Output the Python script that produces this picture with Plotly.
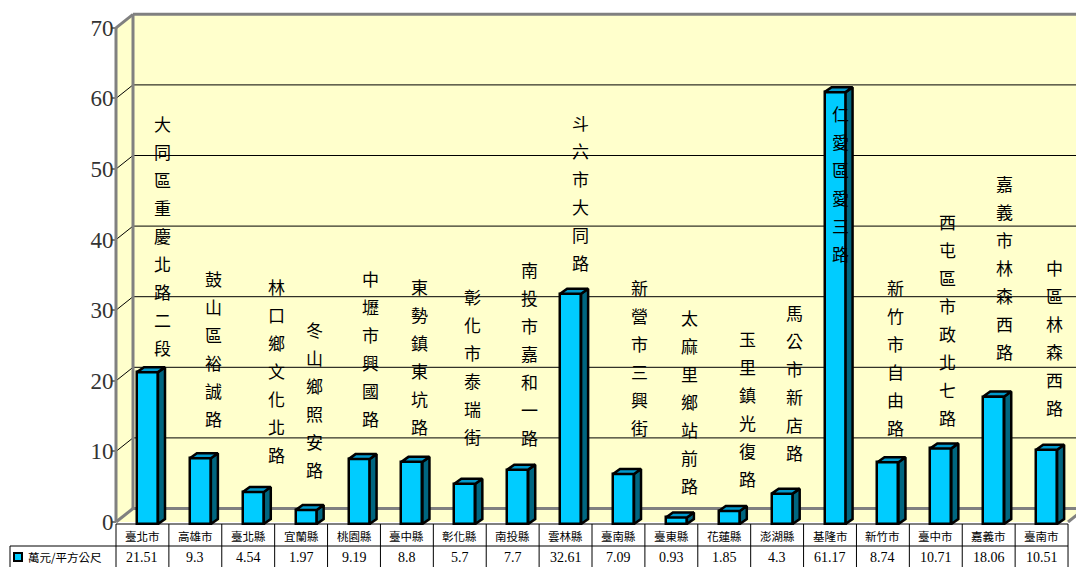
import plotly.graph_objects as go

# ---- data -------------------------------------------------------------
regions = ["臺北市", "高雄市", "臺北縣", "宜蘭縣", "桃園縣", "臺中縣", "彰化縣",
           "南投縣", "雲林縣", "臺南縣", "臺東縣", "花蓮縣", "澎湖縣", "基隆市",
           "新竹市", "臺中市", "嘉義市", "臺南市"]
roads = ["大同區重慶北路二段", "鼓山區裕誠路", "林口鄉文化北路", "冬山鄉照安路",
         "中壢市興國路", "東勢鎮東坑路", "彰化市泰瑞街", "南投市嘉和一路",
         "斗六市大同路", "新營市三興街", "太麻里鄉站前路", "玉里鎮光復路",
         "馬公市新店路", "仁愛區愛三路", "新竹市自由路", "西屯區市政北七路",
         "嘉義市林森西路", "中區林森西路"]
prices = [21.51, 9.3, 4.54, 1.97, 9.19, 8.8, 5.7, 7.7, 32.61, 7.09, 0.93,
          1.85, 4.3, 61.17, 8.74, 10.71, 18.06, 10.51]
series_name = "萬元/平方公尺"
y_ticks = [0, 10, 20, 30, 40, 50, 60, 70]

# ---- layout of the road-name labels (axis units / pixel shifts) -------
label_top = [56.5, 34.5, 33.4, 27.3, 34.5, 33.4, 32.0, 35.8, 56.6, 33.2,
             29.0, 26.0, 29.7, 57.9, 33.2, 42.6, 47.9, 36.1]
label_dx = [20, 18, 28, 13, 16, 13, 13, 17, 15, 21, 18, 23, 17, 10, 13, 12, 16, 13]

# ---- geometry ---------------------------------------------------------
W, H = 1076, 567
AXIS_PX = 116          # front value axis
COL_W = 52.89          # width of one category column
ZERO_PX = 522          # value 0 on the front plane
PX_PER_UNIT = 7.06
DEPTH_X, DEPTH_Y = 17, 13.5
BAR_DX, BAR_DY = 7, 5
N = len(regions)

dxu = DEPTH_X / COL_W
dyu = DEPTH_Y / PX_PER_UNIT
bdx = BAR_DX / COL_W
bdy = BAR_DY / PX_PER_UNIT
bar_w = 21 / COL_W
bar_off = -5.45 / COL_W
bar_base = -2 / PX_PER_UNIT

x_range = [-AXIS_PX / COL_W - 0.5, (W - AXIS_PX) / COL_W - 0.5]
y_range = [-(H - ZERO_PX) / PX_PER_UNIT, ZERO_PX / PX_PER_UNIT]
left, right = -0.5, N - 0.5
ytop = y_ticks[-1]

WALL = "#FFFFCC"
EDGE = "#808080"
FRONT = "#00CCFF"
TOP = "#0099CC"
SIDE = "#006680"

fig = go.Figure()

# front faces of the columns
fig.add_trace(go.Bar(
    x=list(range(N)), y=prices, base=[bar_base] * N,
    width=bar_w, offset=bar_off,
    marker=dict(color=FRONT, line=dict(color="black", width=2.5)),
    name=series_name, showlegend=False, hoverinfo="skip"))

# side and top faces
side_x, side_y, top_x, top_y = [], [], [], []
for i, v in enumerate(prices):
    xl = i + bar_off
    xr = xl + bar_w
    t = bar_base + v
    b = bar_base
    side_x += [xr, xr, xr + bdx, xr + bdx, xr, None]
    side_y += [b, t, t + bdy, b + bdy, b, None]
    top_x += [xl, xr, xr + bdx, xl + bdx, xl, None]
    top_y += [t, t, t + bdy, t + bdy, t, None]
fig.add_trace(go.Scatter(x=side_x, y=side_y, mode="lines", fill="toself",
                         fillcolor=SIDE, line=dict(color="black", width=2.5),
                         hoverinfo="skip", showlegend=False))
fig.add_trace(go.Scatter(x=top_x, y=top_y, mode="lines", fill="toself",
                         fillcolor=TOP, line=dict(color="black", width=2.5),
                         hoverinfo="skip", showlegend=False))

shapes = []
# back wall, side wall, floor
shapes.append(dict(type="rect", xref="x", yref="y", layer="below",
                   x0=left + dxu, x1=right + dxu, y0=dyu, y1=ytop + dyu,
                   fillcolor=WALL, line=dict(width=0)))
shapes.append(dict(type="path", xref="x", yref="y", layer="below",
                   path=f"M{left},0 L{left},{ytop} L{left+dxu},{ytop+dyu} L{left+dxu},{dyu} Z",
                   fillcolor=WALL, line=dict(width=0)))
shapes.append(dict(type="path", xref="x", yref="y", layer="below",
                   path=f"M{left},0 L{left+dxu},{dyu} L{right+dxu},{dyu} L{right},0 Z",
                   fillcolor=WALL, line=dict(width=0)))
# grid lines on the back wall with their connectors to the axis
for v in y_ticks[1:-1]:
    shapes.append(dict(type="line", xref="x", yref="y", layer="below",
                       x0=left + dxu, x1=right + dxu, y0=v + dyu, y1=v + dyu,
                       line=dict(color="black", width=1)))
    shapes.append(dict(type="line", xref="x", yref="y", layer="below",
                       x0=left, x1=left + dxu, y0=v, y1=v + dyu,
                       line=dict(color="black", width=1)))
# wall edges
edges = [
    (left, 0, left, ytop),
    (left, ytop, left + dxu, ytop + dyu),
    (left + dxu, ytop + dyu, right + dxu, ytop + dyu),
    (left + dxu, dyu, left + dxu, ytop + dyu),
    (left + dxu, dyu, right + dxu, dyu),
    (left, 0, left + dxu, dyu),
    (right, 0, right + dxu, dyu),
]
for x0, y0, x1, y1 in edges:
    shapes.append(dict(type="line", xref="x", yref="y", layer="below",
                       x0=x0, y0=y0, x1=x1, y1=y1,
                       line=dict(color=EDGE, width=3)))

# data table under the chart
def py(px):
    return 1 - px / H

TBL_TOP, TBL_MID = 524, 546
shapes.append(dict(type="line", xref="x", yref="paper", x0=left, x1=right,
                   y0=py(TBL_TOP), y1=py(TBL_TOP), line=dict(color="black", width=1)))
shapes.append(dict(type="line", xref="paper", yref="paper", x0=10 / W, x1=1,
                   y0=py(TBL_MID), y1=py(TBL_MID), line=dict(color="black", width=1)))
shapes.append(dict(type="line", xref="x", yref="paper", x0=right, x1=right + 1,
                   y0=py(TBL_MID), y1=py(TBL_MID), line=dict(color="white", width=2)))
for k in range(N + 1):
    shapes.append(dict(type="line", xref="x", yref="paper", x0=left + k, x1=left + k,
                       y0=py(TBL_TOP), y1=0, line=dict(color="black", width=1)))
shapes.append(dict(type="line", xref="paper", yref="paper", x0=10 / W, x1=10 / W,
                   y0=py(TBL_MID), y1=0, line=dict(color="black", width=1)))
# legend key
shapes.append(dict(type="rect", xref="paper", yref="paper",
                   x0=14 / W, x1=22 / W, y0=py(561), y1=py(553),
                   fillcolor=FRONT, line=dict(color="black", width=2)))

annotations = []
for i, name in enumerate(regions):
    annotations.append(dict(x=i, y=py(536), xref="x", yref="paper", text=name,
                            showarrow=False, xanchor="center", yanchor="middle",
                            font=dict(family="Noto Sans CJK TC", size=11.5, color="black")))
    annotations.append(dict(x=i, y=py(557), xref="x", yref="paper", text=str(prices[i]),
                            showarrow=False, xanchor="center", yanchor="middle",
                            font=dict(family="Liberation Serif", size=14, color="black")))
annotations.append(dict(x=26 / W, y=py(557), xref="paper", yref="paper", text=series_name,
                        showarrow=False, xanchor="left", yanchor="middle",
                        font=dict(family="Noto Sans CJK TC", size=11.5, color="black")))

# road names written vertically, one character per line
for i, road in enumerate(roads):
    for k, ch in enumerate(road):
        annotations.append(dict(x=i, y=label_top[i], xref="x", yref="y", text=ch,
                                xshift=label_dx[i], yshift=-28 * k,
                                showarrow=False, xanchor="center", yanchor="middle",
                                font=dict(family="Noto Sans CJK TC", size=17, color="black")))

fig.update_layout(
    width=W, height=H, autosize=False,
    margin=dict(l=0, r=0, t=0, b=0, pad=0),
    paper_bgcolor="white", plot_bgcolor="white",
    showlegend=False, bargap=0,
    shapes=shapes, annotations=annotations,
    xaxis=dict(range=x_range, domain=[0, 1], visible=False, fixedrange=True),
    yaxis=dict(range=y_range, domain=[0, 1], anchor="free", position=AXIS_PX / W,
               tickvals=y_ticks, ticks="outside", ticklen=4, tickwidth=2,
               tickcolor=EDGE, showgrid=False, zeroline=False, showline=False,
               ticklabelstandoff=-6,
               tickfont=dict(family="Liberation Serif", size=23, color="#333333"),
               fixedrange=True),
)

fig.write_html("out.html")
